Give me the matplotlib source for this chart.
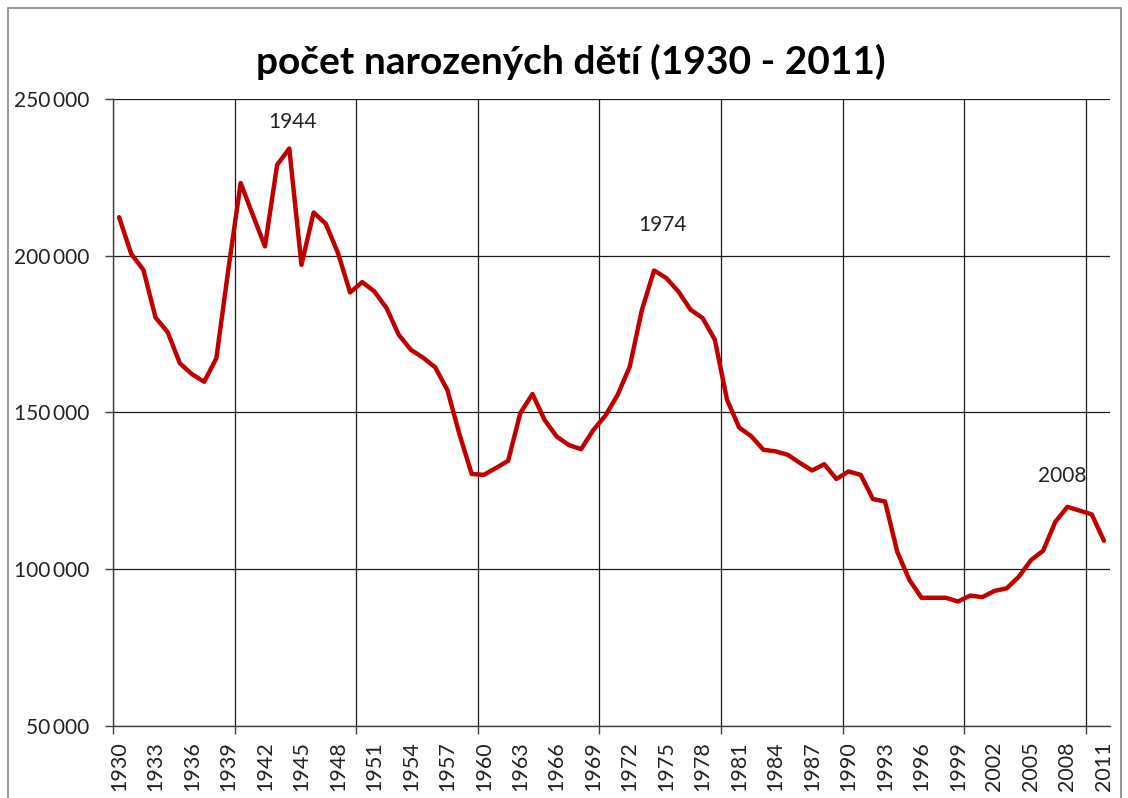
import matplotlib
matplotlib.use("Agg")
import matplotlib.pyplot as plt
from matplotlib.patches import Rectangle
from matplotlib.ticker import FixedLocator, FuncFormatter, NullFormatter

years = list(range(1930, 2012))
births = [
    212300, 200600, 195500, 180300, 175600, 165700, 162200, 159800, 167300, 196000,
    223200, 213000, 203000, 229000, 234200, 197100, 213800, 210200, 200900, 188300,
    191600, 188600, 183300, 174800, 170000, 167500, 164400, 157200, 143000, 130400,
    130100, 132300, 134600, 149800, 155900, 147600, 142300, 139600, 138300, 144400,
    149000, 155600, 164600, 182700, 195300, 192900, 188600, 182800, 180100, 173200,
    154100, 145200, 142400, 138100, 137600, 136500, 133900, 131500, 133500, 128800,
    131200, 130100, 122400, 121600, 105600, 96600, 90900, 90900, 90900, 89700,
    91600, 91100, 93100, 93900, 97600, 102900, 105900, 115100, 119900, 118700,
    117500, 109100,
]
annotated_years = [1944, 1974, 2008]
annot_offsets = [(2, 19), (6, 33), (-4, 22)]
title = "počet narozených dětí (1930 - 2011)"
y_ticks = [50000, 100000, 150000, 200000, 250000]

plt.rcParams['font.family'] = ['Lato', 'DejaVu Sans']

W, H = 1128, 798
fig = plt.figure(figsize=(W / 100, H / 100), dpi=100)
fig.patch.set_facecolor('white')

# outer chart border
fig.add_artist(Rectangle((8 / W, -0.01), (1121 - 8) / W, (H - 8) / H + 0.01,
                         transform=fig.transFigure, fill=False,
                         edgecolor='#868686', linewidth=1.2))

ax = fig.add_axes([113 / W, 1 - 726 / H, (1110 - 113) / W, (726 - 99) / H])
idx = list(range(len(years)))
ax.plot(idx, births, color='#C00000', linewidth=3.2, solid_joinstyle='round',
        solid_capstyle='round', zorder=3)

ax.set_xlim(-0.5, len(years) - 0.5)
ax.set_ylim(50000, 250000)

# vertical gridlines / ticks every 10 categories
grid_pos = [i - 0.5 for i in range(0, len(years), 10)]
ax.xaxis.set_major_locator(FixedLocator(grid_pos))
ax.xaxis.set_major_formatter(NullFormatter())
lab_pos = list(range(0, len(years), 3))
ax.xaxis.set_minor_locator(FixedLocator(lab_pos))
ax.xaxis.set_minor_formatter(FuncFormatter(lambda v, p: str(years[int(round(v))])))
ax.tick_params(axis='x', which='major', length=6, width=1, color='#404040', direction='out')
ax.tick_params(axis='x', which='minor', length=0, pad=11, labelsize=15.5, labelrotation=90,
               labelcolor='#222222')

ax.yaxis.set_major_locator(FixedLocator(y_ticks))
ax.yaxis.set_major_formatter(FuncFormatter(lambda v, p: f"{int(v):,}".replace(',', '\u2009')))
ax.tick_params(axis='y', length=6, width=1, color='#404040', pad=11, labelsize=15,
               labelcolor='#222222')

ax.grid(True, which='major', axis='both', color='#1a1a1a', linewidth=0.9)
ax.set_axisbelow(True)
for s in ['top', 'right']:
    ax.spines[s].set_visible(False)
for s in ['left', 'bottom']:
    ax.spines[s].set_color('#404040')
    ax.spines[s].set_linewidth(1.0)

for yr, off in zip(annotated_years, annot_offsets):
    i = years.index(yr)
    ax.annotate(str(yr), xy=(i, births[i]), xytext=off, textcoords='offset points',
                ha='center', va='center', fontsize=15, color='#222222')

fig.text(571 / W, 1 - 62 / H, title, ha='center', va='center', fontsize=28,
         fontweight='bold', color='black')

fig.savefig('out.png', dpi=100, facecolor='white')
